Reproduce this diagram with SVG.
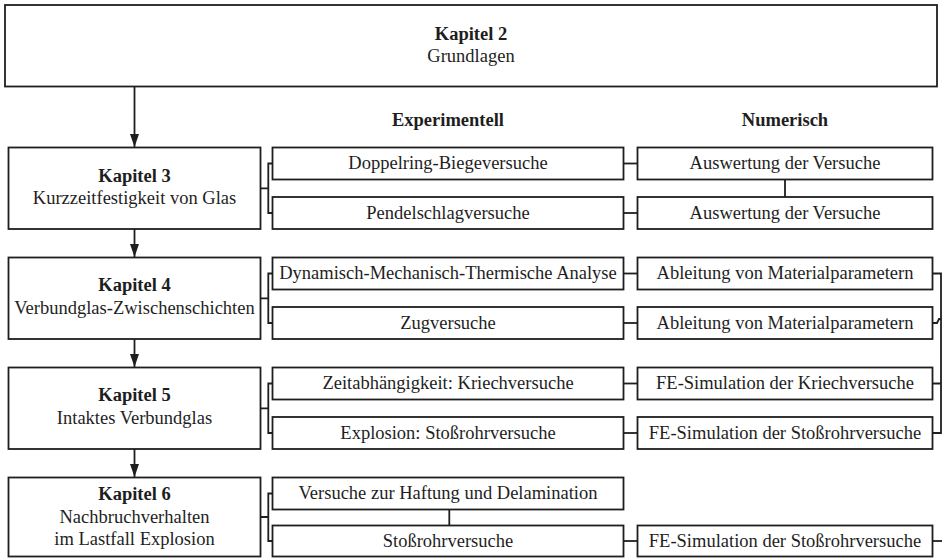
<svg xmlns="http://www.w3.org/2000/svg" width="942" height="558" viewBox="0 0 942 558" font-family="'Liberation Serif', 'Times New Roman', 'DejaVu Serif', serif">
<defs>
<style>
.box{fill:#fff;stroke:#1e1e1e;stroke-width:1.8}
.ln{fill:none;stroke:#1e1e1e;stroke-width:1.8}
text{font-family:'Liberation Serif','Times New Roman','DejaVu Serif',serif;font-size:18.5px;fill:#1e1e1e;text-anchor:middle}
.b{font-weight:bold}
</style>
<marker id="ah" viewBox="0 0 13 9" refX="13" refY="4.5" markerWidth="13" markerHeight="9" markerUnits="userSpaceOnUse" orient="auto">
<path d="M0,0 L13,4.5 L0,9 z" fill="#1e1e1e"/>
</marker>
</defs>
<rect width="942" height="558" fill="#fff"/>

<g id="connectors">
<line class="ln" x1="134.5" y1="86.5" x2="134.5" y2="147" marker-end="url(#ah)"/>
<line class="ln" x1="134.5" y1="229" x2="134.5" y2="257" marker-end="url(#ah)"/>
<line class="ln" x1="134.5" y1="339" x2="134.5" y2="367" marker-end="url(#ah)"/>
<line class="ln" x1="134.5" y1="449" x2="134.5" y2="477" marker-end="url(#ah)"/>
<path class="ln" d="M260.5 188.3 H268.3 M272.5 163.5 H268.3 V213 H272.5"/>
<path class="ln" d="M260.5 298.3 H268.3 M272.5 273.5 H268.3 V323 H272.5"/>
<path class="ln" d="M260.5 408.3 H268.3 M272.5 383.5 H268.3 V433 H272.5"/>
<path class="ln" d="M260.5 517 H268.3 M272.5 493.5 H268.3 V541 H272.5"/>
<line class="ln" x1="623.5" y1="163.5" x2="637.5" y2="163.5"/>
<line class="ln" x1="623.5" y1="213" x2="637.5" y2="213"/>
<line class="ln" x1="623.5" y1="273.5" x2="637.5" y2="273.5"/>
<line class="ln" x1="623.5" y1="323" x2="637.5" y2="323"/>
<line class="ln" x1="623.5" y1="383.5" x2="637.5" y2="383.5"/>
<line class="ln" x1="623.5" y1="433" x2="637.5" y2="433"/>
<line class="ln" x1="623.5" y1="541" x2="637.5" y2="541"/>
<line class="ln" x1="785" y1="179.5" x2="785" y2="197"/>
<line class="ln" x1="449.3" y1="509.5" x2="449.3" y2="525.5"/>
<path class="ln" d="M932.5 273.5 H941 V433 H932.5 M932.5 323 H937 L939 319 H941 M932.5 383.5 H941"/>
<line class="ln" x1="932.5" y1="541" x2="942" y2="541"/>
</g>

<g id="kapitel2">
<rect class="box" x="5" y="5" width="932" height="81.5"/>
<text x="471" y="40" class="b">Kapitel 2</text>
<text x="471" y="62">Grundlagen</text>
</g>

<g id="headers">
<text x="448" y="126" class="b">Experimentell</text>
<text x="785" y="126" class="b">Numerisch</text>
</g>

<g id="kapitel3">
<rect class="box" x="8.5" y="147.5" width="252" height="81.5"/>
<text x="134.5" y="181.5" class="b">Kapitel 3</text>
<text x="134.5" y="204">Kurzzeitfestigkeit von Glas</text>
</g>
<g id="exp3a"><rect class="box" x="272.5" y="147.5" width="351" height="32"/><text x="448" y="169">Doppelring-Biegeversuche</text></g>
<g id="exp3b"><rect class="box" x="272.5" y="197" width="351" height="32"/><text x="448" y="218.5">Pendelschlagversuche</text></g>
<g id="num3a"><rect class="box" x="637.5" y="147.5" width="295" height="32"/><text x="785" y="169">Auswertung der Versuche</text></g>
<g id="num3b"><rect class="box" x="637.5" y="197" width="295" height="32"/><text x="785" y="218.5">Auswertung der Versuche</text></g>

<g id="kapitel4">
<rect class="box" x="8.5" y="257.5" width="252" height="81.5"/>
<text x="134.5" y="291" class="b">Kapitel 4</text>
<text x="134.5" y="313.5">Verbundglas-Zwischenschichten</text>
</g>
<g id="exp4a"><rect class="box" x="272.5" y="257.5" width="351" height="32"/><text x="448" y="279">Dynamisch-Mechanisch-Thermische Analyse</text></g>
<g id="exp4b"><rect class="box" x="272.5" y="307" width="351" height="32"/><text x="448" y="328.5">Zugversuche</text></g>
<g id="num4a"><rect class="box" x="637.5" y="257.5" width="295" height="32"/><text x="785" y="279">Ableitung von Materialparametern</text></g>
<g id="num4b"><rect class="box" x="637.5" y="307" width="295" height="32"/><text x="785" y="328.5">Ableitung von Materialparametern</text></g>

<g id="kapitel5">
<rect class="box" x="8.5" y="367.5" width="252" height="81.5"/>
<text x="134.5" y="401" class="b">Kapitel 5</text>
<text x="134.5" y="423.5">Intaktes Verbundglas</text>
</g>
<g id="exp5a"><rect class="box" x="272.5" y="367.5" width="351" height="32"/><text x="448" y="389">Zeitabhängigkeit: Kriechversuche</text></g>
<g id="exp5b"><rect class="box" x="272.5" y="417" width="351" height="32"/><text x="448" y="438.5">Explosion: Stoßrohrversuche</text></g>
<g id="num5a"><rect class="box" x="637.5" y="367.5" width="295" height="32"/><text x="785" y="389">FE-Simulation der Kriechversuche</text></g>
<g id="num5b"><rect class="box" x="637.5" y="417" width="295" height="32"/><text x="785" y="438.5">FE-Simulation der Stoßrohrversuche</text></g>

<g id="kapitel6">
<rect class="box" x="8.5" y="477.5" width="252" height="79"/>
<text x="134.5" y="500" class="b">Kapitel 6</text>
<text x="134.5" y="522.5">Nachbruchverhalten</text>
<text x="134.5" y="545">im Lastfall Explosion</text>
</g>
<g id="exp6a"><rect class="box" x="272.5" y="477.5" width="351" height="32"/><text x="448" y="499">Versuche zur Haftung und Delamination</text></g>
<g id="exp6b"><rect class="box" x="272.5" y="525.5" width="351" height="31"/><text x="448" y="546.5">Stoßrohrversuche</text></g>
<g id="num6b"><rect class="box" x="637.5" y="525.5" width="295" height="31"/><text x="785" y="546.5">FE-Simulation der Stoßrohrversuche</text></g>
</svg>
